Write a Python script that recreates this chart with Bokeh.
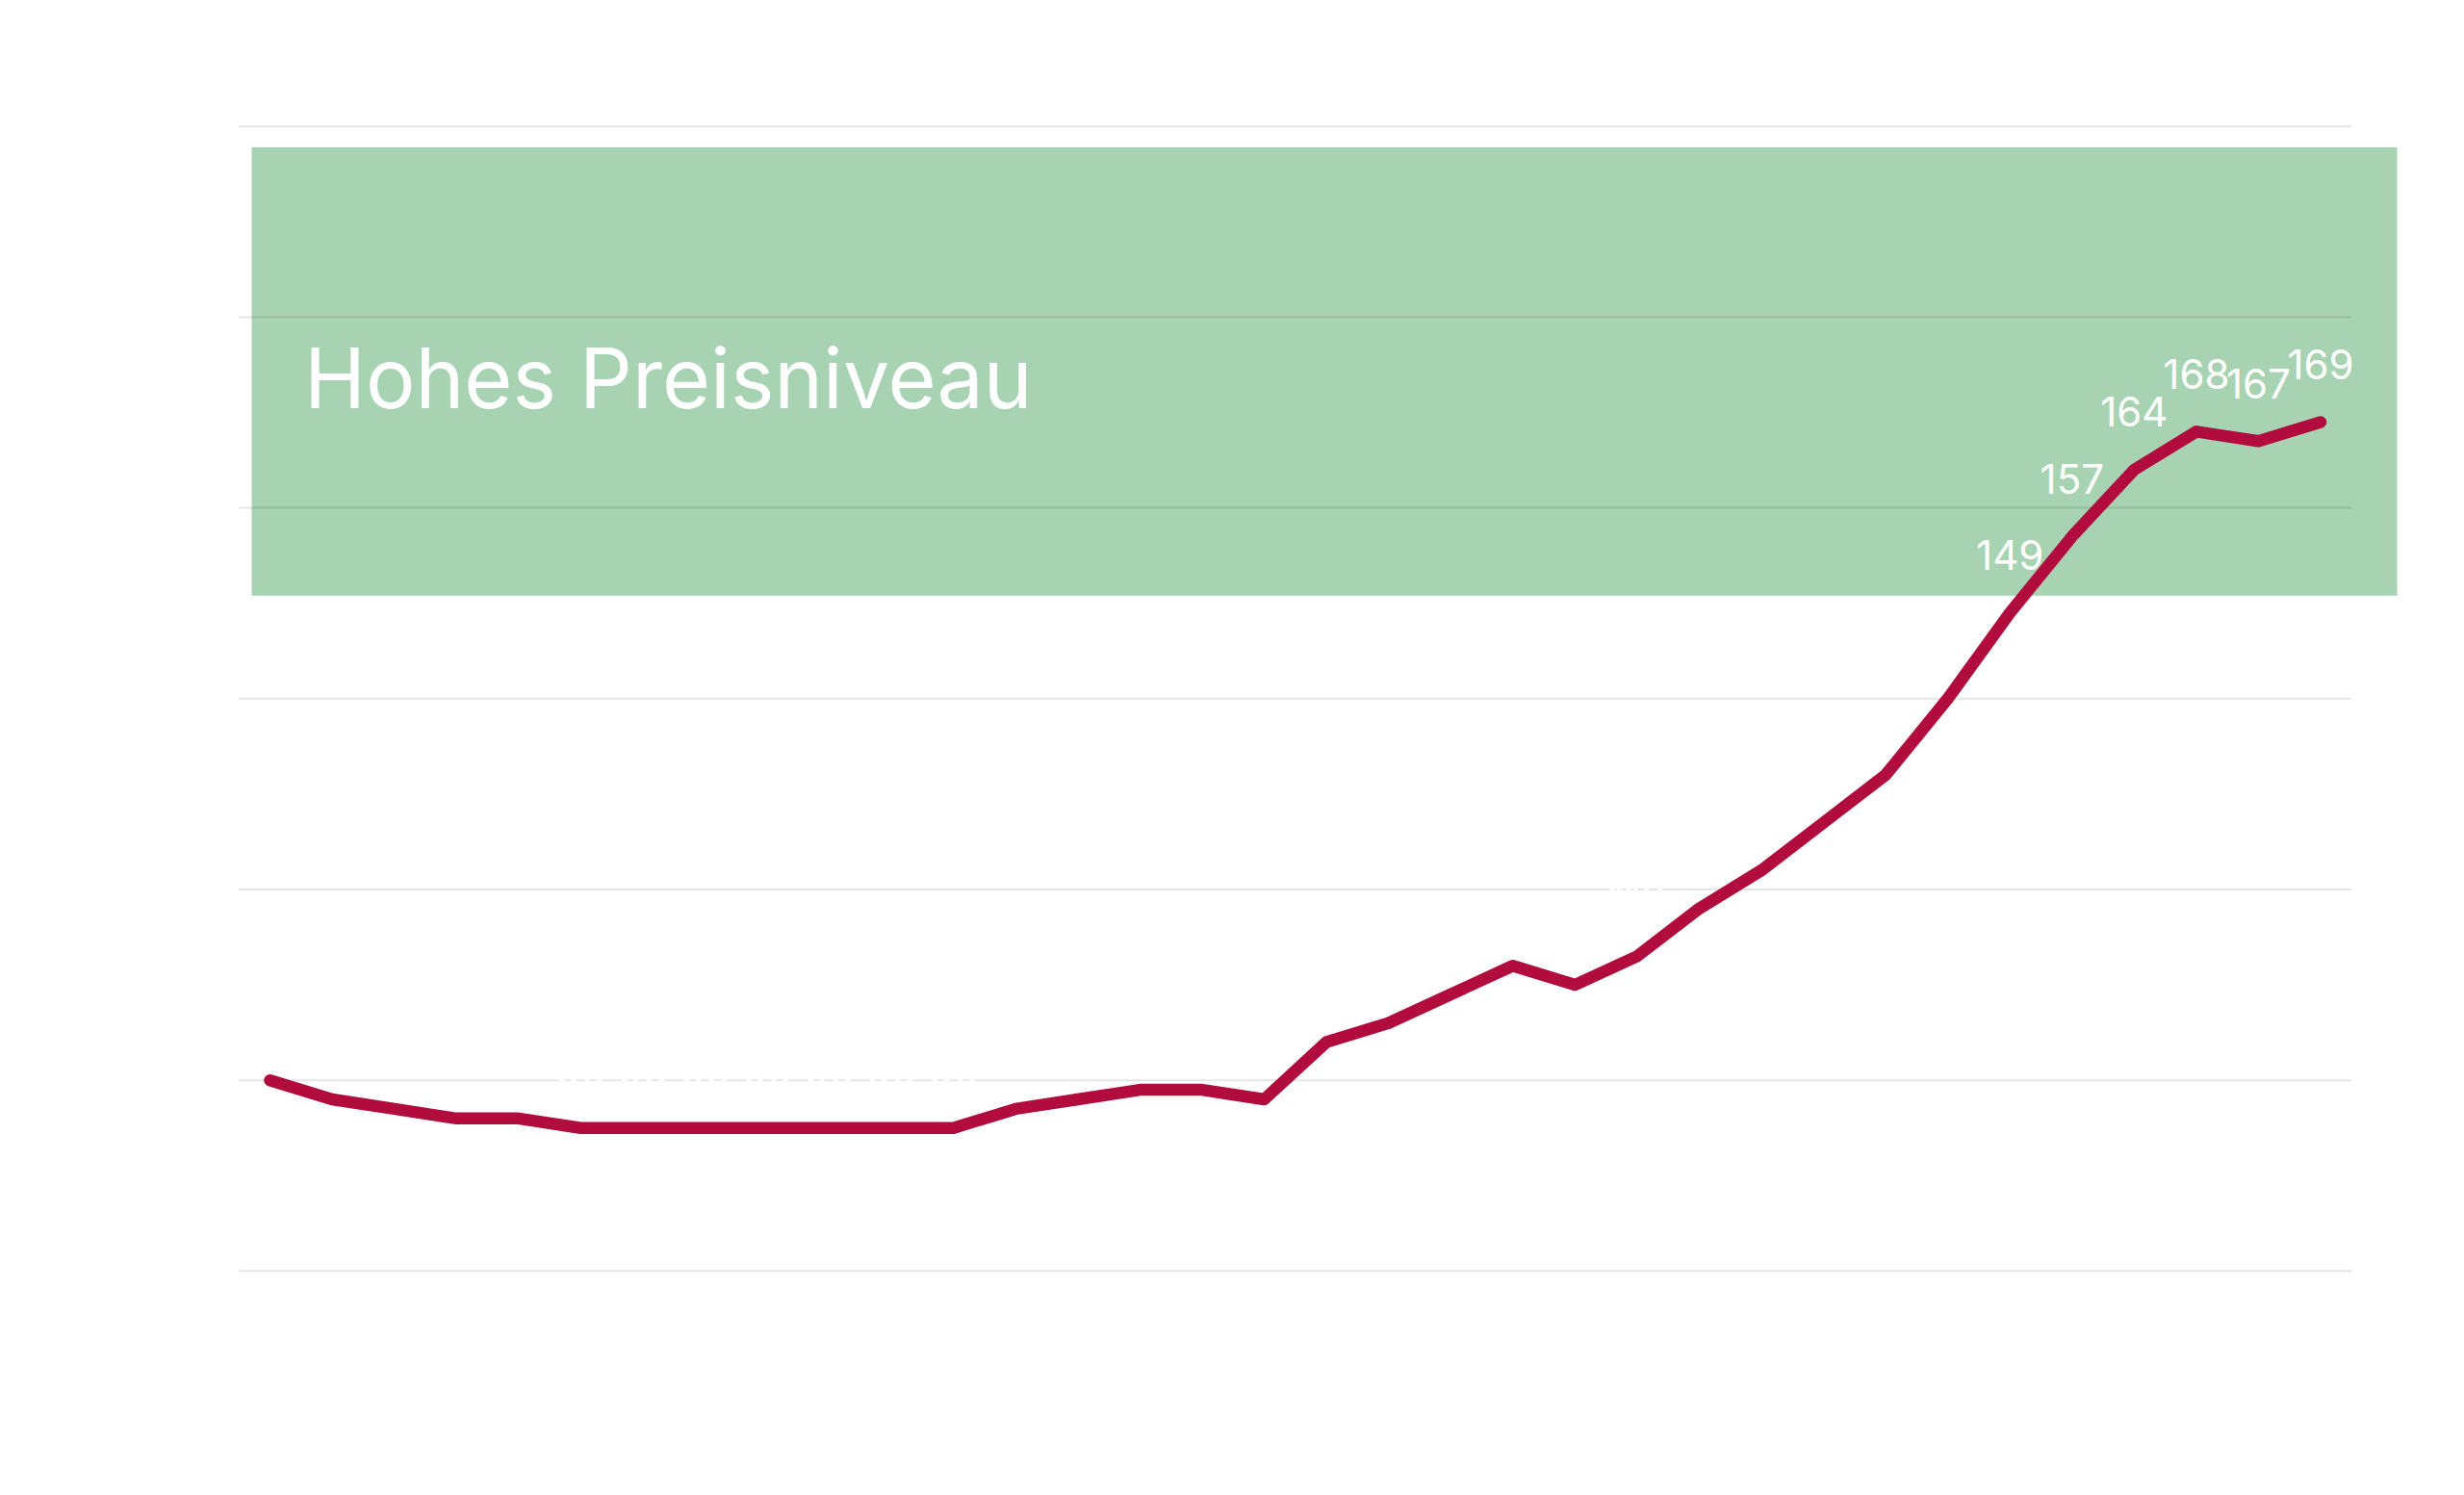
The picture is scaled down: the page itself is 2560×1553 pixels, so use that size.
from bokeh.plotting import figure
from bokeh.models import BoxAnnotation, Label, Range1d, ColumnDataSource
from bokeh.embed import file_html
from bokeh.resources import INLINE
from bokeh.core.properties import value

# ---- data ----
years = list(range(1990, 2024))
index_values = [100, 98, 97, 96, 96, 95, 95, 95, 95, 95, 95, 95, 97, 98, 99, 99, 98,
                104, 106, 109, 112, 110, 113, 118, 122, 127, 132, 140, 149, 157,
                164, 168, 167, 169]
value_labels = [str(v) for v in index_values]
y_ticks = [80, 100, 120, 140, 160, 180, 200]
band_label = "Hohes Preisniveau"

# ---- figure ----
p = figure(width=2544, height=1537, output_backend="svg", toolbar_location=None,
           x_range=Range1d(1989.489, 2024.371), y_range=Range1d(78.07, 203.2),
           x_axis_location=None, y_axis_location=None,
           min_border_left=247, min_border_right=45,
           min_border_top=99, min_border_bottom=198)
p.outline_line_color = None
p.grid.visible = False
p.background_fill_color = "white"
p.border_fill_color = "white"

# green band
band = BoxAnnotation(left=1989.706, right=2024.232, bottom=150.8, top=197.8,
                     fill_color="#A7D3B2", fill_alpha=1.0, line_color=None,
                     level="underlay")
p.add_layout(band)

# gridlines
n = len(y_ticks)
p.segment(x0=[years[0] - 0.5] * n, x1=[years[-1] + 0.5] * n, y0=y_ticks, y1=y_ticks,
          line_color="black", line_alpha=0.1, line_width=2)

# band label
p.add_layout(Label(x=1990.55, y=173.6, text=band_label, text_font="Inter",
                   text_font_size="86px", text_color="white",
                   text_baseline="alphabetic", text_align="left"))

src = ColumnDataSource(dict(x=years, y=index_values, t=value_labels))

# value labels (white), drawn below the line
p.text("x", "y", text="t", source=src, text_font=value("Inter"),
       text_font_size=value("42px"), text_color="white", text_align="center",
       text_baseline="middle", y_offset=-60)

# line
p.line("x", "y", source=src, line_color="#B20B3E", line_width=12.5,
       line_cap="round", line_join="round")

open("out.html", "w").write(file_html(p, INLINE))
